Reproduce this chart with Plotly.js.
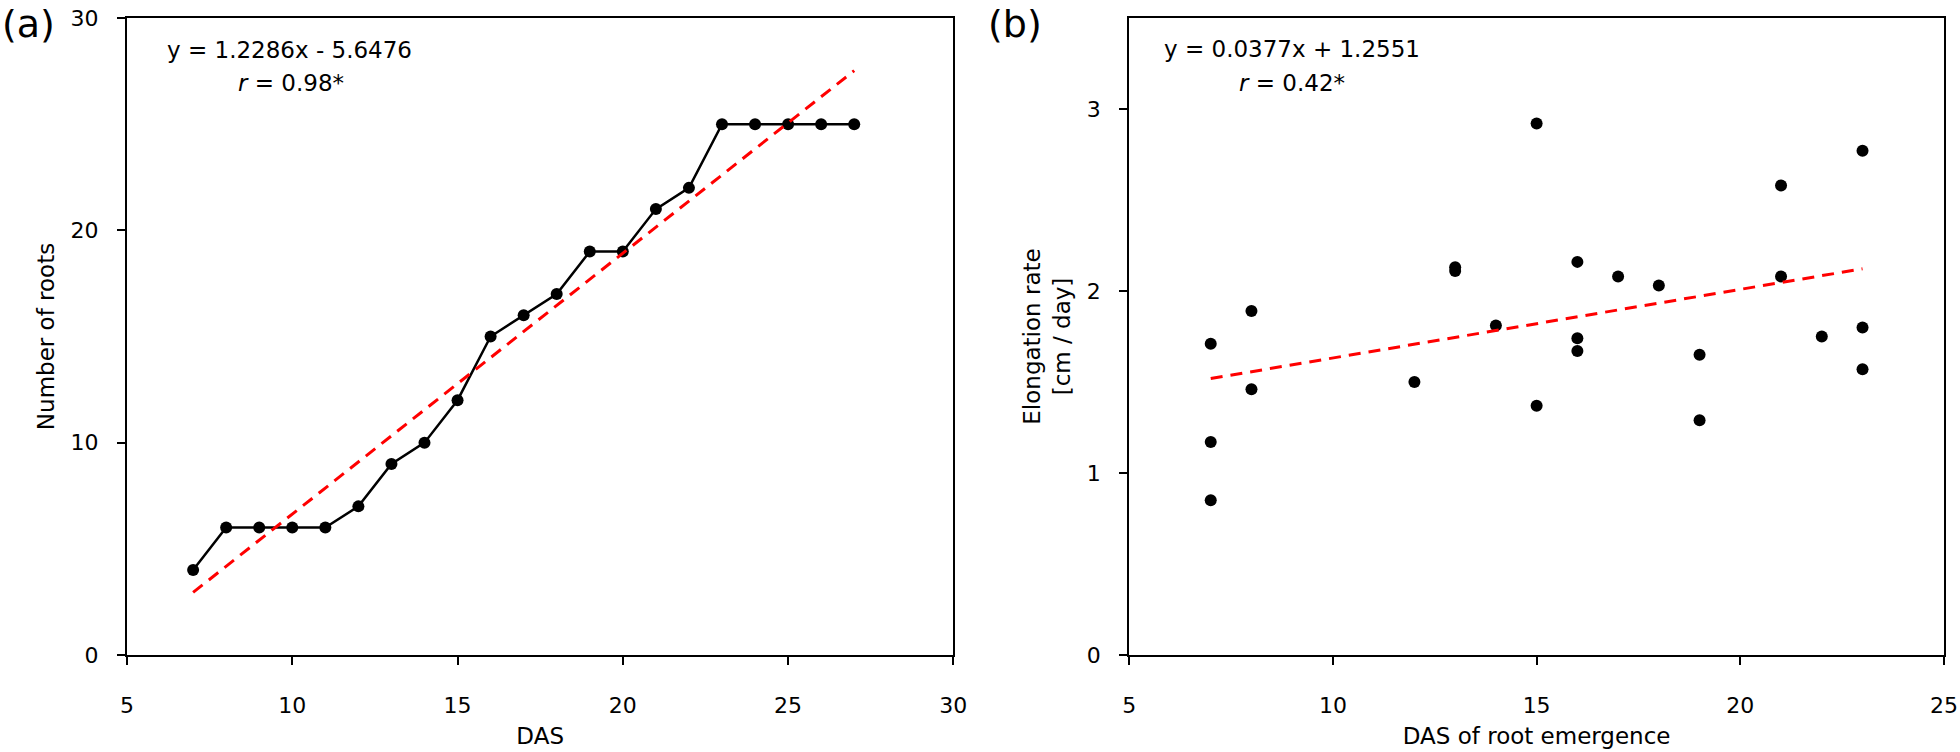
<!DOCTYPE html>
<html>
<head>
<meta charset="utf-8">
<script src="https://cdn.plot.ly/plotly-3.0.1.min.js"></script>
<style>html,body{margin:0;padding:0;background:#fff;}#chart{width:1960px;height:752px;}</style>
</head>
<body>
<div id="chart"></div>
<script>
// Panel (a): number of roots vs DAS
const dasA = [7, 8, 9, 10, 11, 12, 13, 14, 15, 16, 17, 18, 19, 20, 21, 22, 23, 24, 25, 26, 27];
const rootsA = [4, 6, 6, 6, 6, 7, 9, 10, 12, 15, 16, 17, 19, 19, 21, 22, 25, 25, 25, 25, 25];
const trendAX = [7, 27];
const trendAY = [2.95, 27.52];

// Panel (b): elongation rate vs DAS of root emergence
const dasB = [7, 7, 7, 8, 8, 12, 13, 13, 14, 15, 15, 16, 16, 16, 17, 18, 19, 19, 21, 21, 22, 23, 23, 23];
const rateB = [1.71, 1.17, 0.85, 1.89, 1.46, 1.50, 2.13, 2.11, 1.81, 2.92, 1.37, 2.16, 1.74, 1.67, 2.08, 2.03, 1.65, 1.29, 2.58, 2.08, 1.75, 2.77, 1.80, 1.57];
const trendBX = [7, 23];
const trendBY = [1.519, 2.122];

const FONT = '"DejaVu Sans", Verdana, sans-serif';
const tickTxt = {family: FONT, size: 22, color: '#000'};
const txt = {family: FONT, size: 23, color: '#000'};
const big = {family: FONT, size: 38, color: '#000'};

const traces = [
  {x: dasA, y: rootsA, xaxis: 'x', yaxis: 'y', type: 'scatter', mode: 'lines+markers',
   line: {color: '#000', width: 2.5}, marker: {color: '#000', size: 12}, showlegend: false},
  {x: trendAX, y: trendAY, xaxis: 'x', yaxis: 'y', type: 'scatter', mode: 'lines',
   line: {color: '#ff0000', width: 3, dash: '12px,8px'}, showlegend: false},
  {x: dasB, y: rateB, xaxis: 'x2', yaxis: 'y2', type: 'scatter', mode: 'markers',
   marker: {color: '#000', size: 12}, showlegend: false},
  {x: trendBX, y: trendBY, xaxis: 'x2', yaxis: 'y2', type: 'scatter', mode: 'lines',
   line: {color: '#ff0000', width: 3, dash: '12px,8px'}, showlegend: false}
];

function ax(extra) {
  return Object.assign({
    showline: true, linecolor: '#000', linewidth: 2, mirror: true,
    ticks: 'outside', ticklen: 8, tickwidth: 2, tickcolor: '#000',
    showgrid: false, zeroline: false, tickfont: tickTxt, fixedrange: true
  }, extra);
}

const layout = {
  width: 1960, height: 752,
  margin: {l: 127, r: 16, t: 18, b: 97},
  paper_bgcolor: '#fff', plot_bgcolor: '#fff',
  font: txt,
  xaxis: ax({domain: [0, 0.4548], range: [5, 30], dtick: 5, tick0: 5,
    ticklabelstandoff: 22, anchor: 'y',
    title: {text: 'DAS', font: txt, standoff: 10}}),
  yaxis: ax({domain: [0, 1], range: [0, 30], dtick: 10, tick0: 0,
    ticklabelstandoff: 14, anchor: 'x',
    title: {text: 'Number of roots', font: txt, standoff: 10}}),
  xaxis2: ax({domain: [0.5516, 1], range: [5, 25], dtick: 5, tick0: 5,
    ticklabelstandoff: 22, anchor: 'y2',
    title: {text: 'DAS of root emergence', font: txt, standoff: 10}}),
  yaxis2: ax({domain: [0, 1], range: [0, 3.5], dtick: 1, tick0: 0,
    ticklabelstandoff: 14, anchor: 'x2',
    title: {text: 'Elongation rate<br>[cm / day]', font: txt, standoff: 10}}),
  annotations: [
    {text: '(a)', xref: 'paper', yref: 'paper', x: -127/1817, y: 1 + 18/637, xanchor: 'left', yanchor: 'top',
     showarrow: false, font: big},
    {text: '(b)', xref: 'paper', yref: 'paper', x: (986-127)/1817, y: 1 + 18/637, xanchor: 'left', yanchor: 'top',
     showarrow: false, font: big},
    {text: 'y = 1.2286x - 5.6476', xref: 'x', yref: 'y', x: 9.91, y: 28.5, showarrow: false, font: txt},
    {text: '<i>r</i> = 0.98*', xref: 'x', yref: 'y', x: 9.97, y: 26.95, showarrow: false, font: txt},
    {text: 'y = 0.0377x + 1.2551', xref: 'x2', yref: 'y2', x: 8.99, y: 3.33, showarrow: false, font: txt},
    {text: '<i>r</i> = 0.42*', xref: 'x2', yref: 'y2', x: 8.99, y: 3.145, showarrow: false, font: txt}
  ]
};

Plotly.newPlot('chart', traces, layout, {displayModeBar: false, staticPlot: true});
</script>
</body>
</html>
